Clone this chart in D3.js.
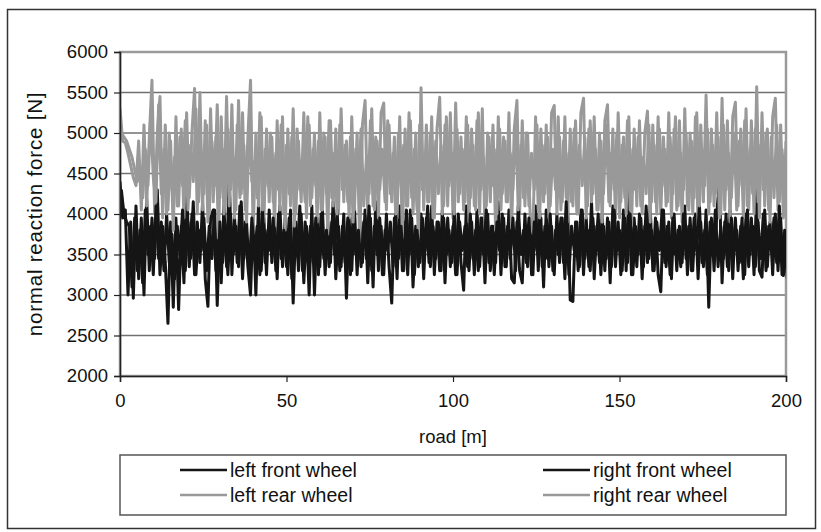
<!DOCTYPE html>
<html>
<head>
<meta charset="utf-8">
<script src="https://cdn.jsdelivr.net/npm/d3@7"></script>
<style>
  body { margin: 0; background: #fff; }
  text { font-family: "Liberation Sans", Arial, sans-serif; fill: #111; }
</style>
</head>
<body>
<div id="chart"></div>
<script>
// values, one point every 0.8 m (0..200 m)
var yTicks = [2000, 2500, 3000, 3500, 4000, 4500, 5000, 5500, 6000];
var xTicks = [0, 50, 100, 150, 200];
var seriesNames = ["left front wheel", "right front wheel", "left rear wheel", "right rear wheel"];

var leftFront = [
  4400, 3950, 4050, 3000, 3900, 2960, 4100, 3200, 3950, 3000,
  4200, 3300, 3950, 3450, 4300, 3250, 3850, 3400, 2650, 3900,
  2850, 3950, 2820, 3850, 3150, 4400, 3350, 4000, 3250, 3900,
  3400, 4150, 3200, 2860, 3950, 4050, 3300, 3850, 3150, 4100,
  3350, 4500, 3250, 3950, 3400, 4100, 3200, 3900, 3350, 3000,
  4000, 3000, 4150, 3300, 3950, 3250, 4050, 3400, 3850, 3200,
  4100, 3350, 3950, 3250, 4050, 2900, 3900, 3300, 4000, 3150,
  3850, 3000, 4100, 3000, 3950, 3350, 4050, 3250, 3900, 3400,
  4150, 3200, 3850, 3350, 4000, 2960, 3950, 3300, 4100, 3250,
  3900, 3400, 4050, 3150, 3950, 3100, 4150, 3300, 3850, 3250,
  4000, 3350, 2900, 3950, 3200, 4100, 3300, 3900, 3250, 4050,
  3100, 3850, 3350, 4000, 3200, 3950, 3400, 4100, 3250, 3900,
  3300, 4050, 3150, 3950, 3350, 3850, 3250, 4000, 3400, 3060,
  4100, 3300, 3900, 3250, 4050, 3350, 3950, 3150, 4000, 3300,
  3850, 3400, 4150, 3250, 3950, 3350, 4050, 3200, 3150, 3900,
  3300, 3150, 4000, 3350, 3900, 3250, 4100, 3300, 3950, 3100,
  4050, 3350, 3850, 3250, 4000, 3400, 3950, 3200, 4100, 2940,
  2920, 3900, 3300, 4050, 3250, 3950, 3350, 4150, 3200, 3850,
  3400, 4000, 3300, 3950, 3150, 4100, 3350, 3900, 3250, 4050,
  3300, 4300, 3250, 3950, 3350, 4000, 3200, 3850, 3400, 4100,
  3300, 3950, 3250, 3040, 4050, 3350, 3900, 3200, 4000, 3300,
  3850, 3400, 4100, 3250, 3950, 3300, 4000, 3200, 3900, 3350,
  4050, 2850, 3950, 3300, 4000, 4400, 3150, 3900, 3350, 4050,
  3200, 3950, 3300, 3850, 3200, 4000, 3350, 3950, 3250, 4300,
  3300, 3220, 4050, 3350, 3900, 3250, 4000, 3300, 3950, 3240,
  3500
];

var rightFront = [
  4300, 4000, 3900, 3850, 3100, 3950, 3300, 3800, 3150, 4050,
  3500, 3850, 3250, 4100, 3450, 3900, 3300, 4000, 3400, 3750,
  3200, 3850, 3500, 4050, 3300, 3900, 3450, 4150, 3250, 3800,
  3550, 3950, 3300, 3850, 3450, 4050, 2870, 3900, 3400, 3800,
  3250, 4000, 3500, 3850, 3350, 4150, 3450, 3900, 3300, 3950,
  3500, 3850, 3250, 4050, 3400, 3800, 3550, 3950, 3300, 4000,
  3450, 3800, 3350, 3950, 3200, 3850, 3500, 4100, 3300, 3900,
  3550, 3850, 3400, 3950, 3250, 4000, 3450, 3800, 3350, 3900,
  3500, 4050, 3300, 3850, 3400, 3950, 3250, 4000, 3500, 3800,
  3350, 3900, 3450, 4100, 3300, 3850, 3500, 3950, 3250, 3800,
  3550, 3900, 3350, 4000, 3450, 3850, 3300, 4050, 3500, 3950,
  3250, 3800, 3400, 3950, 3550, 4100, 3350, 3850, 3450, 3900,
  3300, 3950, 3500, 3800, 3400, 4050, 3250, 3900, 3550, 3850,
  3350, 4000, 3450, 3800, 3300, 3950, 3500, 4050, 3400, 3850,
  3250, 3900, 3550, 4000, 3350, 3850, 3450, 3950, 3300, 4100,
  3500, 3800, 3400, 3950, 3250, 3900, 3550, 4050, 3350, 3850,
  3450, 4000, 3300, 3800, 3500, 3950, 3400, 4150, 3250, 3850,
  3550, 3900, 3350, 4050, 3450, 3800, 3300, 3950, 3500, 4000,
  3250, 3850, 3450, 3900, 3350, 4050, 3550, 3800, 3300, 3950,
  3400, 4000, 3250, 3850, 3500, 3950, 3350, 4100, 3450, 3800,
  3300, 3900, 3550, 4050, 3400, 3850, 3250, 3950, 3500, 3800,
  3350, 4000, 3450, 3850, 3300, 3950, 3550, 4100, 3400, 3800,
  3250, 3900, 3500, 4050, 3350, 3850, 3450, 4000, 3300, 3950,
  3550, 3800, 3400, 3950, 3250, 4050, 3500, 3850, 3350, 3900,
  3450, 4000, 3300, 3850, 3550, 3950, 3400, 4100, 3250, 3800,
  3200
];

var leftRear = [
  5300, 4900, 4880, 4750, 4600, 4450, 4350, 4900, 4050, 5100,
  4100, 4950, 5650, 4000, 5000, 5450, 3950, 5100, 4050, 4900,
  3800, 5200, 4100, 5050, 3950, 5250, 4200, 5000, 5550, 4000,
  5500, 4050, 5150, 3900, 5300, 4150, 4950, 3700, 5200, 4000,
  5450, 4100, 5350, 3950, 5100, 4200, 5250, 4050, 4950, 5650,
  3750, 5000, 4100, 5200, 3900, 5050, 4150, 4950, 3850, 5150,
  4050, 5200, 3800, 5050, 4100, 5300, 4000, 4900, 4150, 5250,
  3950, 5100, 4200, 5000, 3900, 5250, 4050, 4950, 3750, 5150,
  4100, 5050, 4000, 5300, 4150, 4900, 3950, 5200, 4050, 5000,
  3600, 5100, 5400, 4000, 5150, 4100, 4950, 3950, 5250, 5370,
  4050, 5100, 4150, 4950, 3950, 5200, 3700, 5050, 4100, 5150,
  4000, 5000, 3650, 5560, 4050, 5100, 4150, 5200, 3950, 5050,
  5440, 4000, 5100, 4100, 5250, 3950, 5370, 4150, 4950, 4050,
  5200, 3900, 5050, 4100, 5150, 4000, 5300, 3800, 5000, 4150,
  5100, 3800, 5200, 4050, 4950, 4150, 5250, 3820, 5050, 5400,
  4000, 5150, 4100, 5000, 3950, 3760, 5200, 4050, 5050, 4150,
  5100, 3950, 5250, 5340, 4000, 4950, 4150, 5200, 3900, 5050,
  4100, 5150, 4000, 5250, 5430, 3950, 5050, 4150, 5200, 4050,
  5000, 3900, 5150, 5350, 4100, 5050, 3950, 5250, 4150, 4950,
  4000, 5200, 3850, 5050, 4100, 5150, 4000, 5000, 5270, 3900,
  5100, 4150, 5200, 4000, 4950, 4100, 5250, 3950, 5050, 4050,
  5150, 3900, 5300, 4100, 5000, 4000, 5200, 3850, 5100, 4150,
  5470, 4000, 5050, 4100, 5250, 3950, 5430, 4050, 5150, 3900,
  5200, 5380, 4100, 5050, 3950, 5300, 4050, 5150, 4000, 5570,
  3950, 5250, 4100, 5050, 3900, 5200, 5430, 4050, 5100, 3950,
  4900
];

var rightRear = [
  5000, 4950, 4900, 4800, 4700, 4550, 4400, 4500, 4200, 4800,
  4350, 5200, 4450, 4150, 5350, 4250, 4800, 4000, 5000, 4300,
  4700, 4100, 4950, 4350, 5150, 4050, 4850, 4400, 5300, 4150,
  4750, 4250, 5100, 4000, 4900, 4350, 5350, 4200, 4800, 4100,
  5050, 4300, 4700, 4050, 5400, 4250, 4850, 3900, 5100, 4400,
  4650, 4200, 5250, 4050, 4800, 4350, 5000, 4150, 4750, 4300,
  5100, 4000, 4850, 4250, 4950, 3850, 5050, 4300, 4700, 4150,
  5200, 4100, 4800, 4350, 4900, 4050, 5000, 4250, 5150, 4200,
  4750, 4000, 5100, 4300, 4850, 4150, 4950, 3900, 4800, 4350,
  5050, 4100, 4700, 4250, 5300, 4050, 4900, 4300, 4800, 4150,
  5150, 4250, 4750, 4000, 5000, 4350, 4850, 4100, 5250, 4200,
  4800, 4050, 5100, 4300, 4700, 4150, 5000, 3950, 4900, 4250,
  4850, 4100, 5200, 4350, 4750, 4000, 5050, 4250, 4800, 4150,
  5100, 4200, 4850, 4050, 5250, 4300, 4700, 4100, 4950, 4350,
  4800, 4000, 5050, 4250, 4900, 4150, 4750, 4300, 5150, 4050,
  4850, 4200, 5000, 4100, 4750, 4300, 5100, 3950, 4850, 4250,
  4950, 4100, 4800, 4300, 5200, 4050, 4900, 4200, 4750, 4150,
  5050, 4000, 4850, 4350, 4950, 4100, 5150, 4250, 4800, 4050,
  4900, 4250, 5100, 4150, 4750, 4300, 5000, 3950, 4850, 4200,
  5150, 4050, 4800, 4300, 4950, 4100, 4700, 4250, 5100, 4150,
  4850, 4000, 5050, 4350, 4800, 4150, 4950, 4250, 5200, 4100,
  4750, 4300, 5000, 4050, 4900, 4200, 5250, 4100, 4800, 4350,
  5050, 4150, 4850, 4250, 4950, 4000, 5100, 4300, 4750, 4200,
  5000, 4050, 4900, 4350, 5150, 4100, 4800, 4250, 5050, 4150,
  4850, 4300, 5000, 4050, 4950, 4200, 5100, 4150, 4800, 4350,
  4700
];

var width = 821;
var height = 532;

var plot = { left: 120, right: 786, top: 52, bottom: 376 };

var svg = d3.select("#chart")
    .append("svg")
    .attr("width", width)
    .attr("height", height);

svg.append("rect")
    .attr("width", width)
    .attr("height", height)
    .attr("fill", "#fff");

// outer frame
svg.append("rect")
    .attr("x", 7.5)
    .attr("y", 9.5)
    .attr("width", 808)
    .attr("height", 519)
    .attr("fill", "none")
    .attr("stroke", "#333")
    .attr("stroke-width", 1.5);

svg.append("clipPath")
    .attr("id", "plotClip")
    .append("rect")
    .attr("x", plot.left)
    .attr("y", plot.top)
    .attr("width", plot.right - plot.left)
    .attr("height", plot.bottom - plot.top);

var xScale = d3.scaleLinear()
    .domain([0, 200])
    .range([plot.left, plot.right]);

var yScale = d3.scaleLinear()
    .domain([2000, 6000])
    .range([plot.bottom, plot.top]);

// gridlines
svg.append("g")
    .selectAll("line")
    .data(yTicks.slice(1, -1))
    .enter()
    .append("line")
    .attr("x1", plot.left)
    .attr("x2", plot.right)
    .attr("y1", d => yScale(d))
    .attr("y2", d => yScale(d))
    .attr("stroke", "#707070")
    .attr("stroke-width", 1.6);

// plot frame
svg.append("rect")
    .attr("x", plot.left)
    .attr("y", plot.top)
    .attr("width", plot.right - plot.left)
    .attr("height", plot.bottom - plot.top)
    .attr("fill", "none")
    .attr("stroke", "#9a9a9a")
    .attr("stroke-width", 2.5);

// series: left wheels sampled on the 0.8 m grid, right wheels half a step later
var step = 200 / (leftFront.length - 1);
function seriesLine(offset) {
    return d3.line()
        .x((d, i) => xScale(i * step + offset))
        .y(d => yScale(d));
}

var drawOrder = [
    { values: leftFront, color: "#151515", offset: 0 },
    { values: leftRear, color: "#999999", offset: 0 },
    { values: rightFront, color: "#151515", offset: step / 2 },
    { values: rightRear, color: "#999999", offset: step / 2 }
];

svg.append("g")
    .attr("clip-path", "url(#plotClip)")
    .selectAll("path")
    .data(drawOrder)
    .enter()
    .append("path")
    .attr("d", d => seriesLine(d.offset)(d.values))
    .attr("fill", "none")
    .attr("stroke", d => d.color)
    .attr("stroke-width", 3)
    .attr("stroke-linejoin", "round");

// axes
var yAxis = d3.axisLeft(yScale)
    .tickValues(yTicks)
    .tickFormat(d3.format("d"))
    .tickSize(6)
    .tickPadding(6);
var xAxis = d3.axisBottom(xScale)
    .tickValues(xTicks)
    .tickFormat(d3.format("d"))
    .tickSize(6)
    .tickPadding(12);

var gy = svg.append("g")
    .attr("transform", `translate(${plot.left},0)`)
    .call(yAxis);
var gx = svg.append("g")
    .attr("transform", `translate(0,${plot.bottom})`)
    .call(xAxis);

[gx, gy].forEach(function(g) {
    g.select(".domain").attr("stroke", "#222").attr("stroke-width", 1.5);
    g.selectAll(".tick line").attr("stroke", "#222").attr("stroke-width", 1.2);
    g.selectAll("text")
        .attr("font-family", "Liberation Sans, Arial, sans-serif")
        .attr("font-size", 18.5)
        .attr("fill", "#111");
});

// axis titles
svg.append("text")
    .attr("x", (plot.left + plot.right) / 2)
    .attr("y", 443)
    .attr("text-anchor", "middle")
    .attr("font-size", 18.5)
    .text("road [m]");

svg.append("text")
    .attr("transform", `translate(42,${(plot.top + plot.bottom) / 2}) rotate(-90)`)
    .attr("text-anchor", "middle")
    .attr("font-size", 20.5)
    .attr("letter-spacing", 0.8)
    .text("normal reaction force [N]");

// legend
var legend = { x: 120, y: 455, w: 666, h: 60 };
svg.append("rect")
    .attr("x", legend.x)
    .attr("y", legend.y)
    .attr("width", legend.w)
    .attr("height", legend.h)
    .attr("fill", "#fff")
    .attr("stroke", "#555")
    .attr("stroke-width", 1.5);

var legendItems = [
    { name: seriesNames[0], color: "#151515", x: 180, y: 470 },
    { name: seriesNames[1], color: "#151515", x: 543, y: 470 },
    { name: seriesNames[2], color: "#999999", x: 180, y: 495 },
    { name: seriesNames[3], color: "#999999", x: 543, y: 495 }
];

var li = svg.append("g")
    .selectAll("g")
    .data(legendItems)
    .enter()
    .append("g")
    .attr("transform", d => `translate(${d.x},${d.y})`);

li.append("line")
    .attr("x1", 0)
    .attr("x2", 47)
    .attr("stroke", d => d.color)
    .attr("stroke-width", 2.5);

li.append("text")
    .attr("x", 50)
    .attr("dy", "0.35em")
    .attr("font-size", 19.5)
    .text(d => d.name);
</script>
</body>
</html>
